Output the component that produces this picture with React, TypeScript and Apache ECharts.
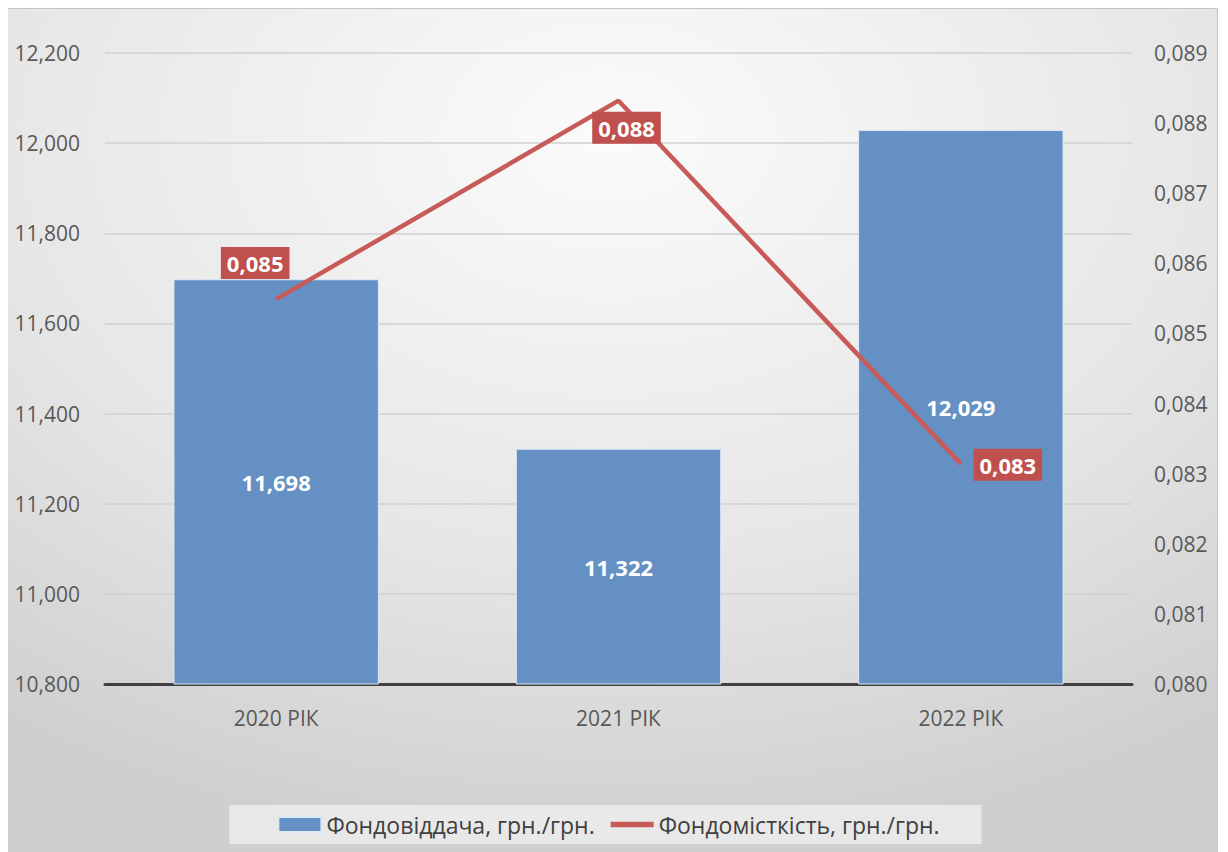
import React, { useEffect, useRef } from "react";
import * as echarts from "echarts";

const categories = ["2020 РІК", "2021 РІК", "2022 РІК"];
const fondovidacha = [11.698, 11.322, 12.029];
const fondomistkist = [0.08549, 0.08832, 0.08314];
const seriesNames = ["Фондовіддача, грн./грн.", "Фондомісткість, грн./грн."];
const lineLabelOffsets = [
  [-21, -36],
  [8, 27],
  [47, 1],
];

const fmt = (v: number) => v.toFixed(3).replace(".", ",");
const FONT = "'Open Sans', sans-serif";

export default function App() {
  const ref = useRef<HTMLDivElement>(null);
  useEffect(() => {
    if (!ref.current) return;
    const chart = echarts.init(ref.current, undefined, { renderer: "svg" });
    chart.setOption({
      animation: false,
      backgroundColor: {
        type: "radial",
        x: 0.5,
        y: 0.15,
        r: 0.85,
        colorStops: [
          { offset: 0, color: "#fbfbfb" },
          { offset: 0.6, color: "#e6e6e6" },
          { offset: 1, color: "#cfcfcf" },
        ],
      },
      textStyle: { fontFamily: FONT },
      grid: { left: 105, right: 85, top: 44, bottom: 168 },
      legend: {
        bottom: 8,
        left: "center",
        backgroundColor: "rgba(240,240,240,0.75)",
        padding: [8, 42, 8, 48],
        itemGap: 16,
        itemWidth: 43,
        itemHeight: 15,
        textStyle: { color: "#404040", fontSize: 23, fontFamily: FONT },
        data: [
          { name: seriesNames[0], icon: "rect" },
          { name: seriesNames[1], icon: "path://M0,0 H40 V5 H0 Z" },
        ],
      },
      xAxis: {
        type: "category",
        data: categories,
        axisLine: { show: true, lineStyle: { color: "#404040", width: 3 } },
        axisTick: { show: false },
        axisLabel: { color: "#595959", fontSize: 21, margin: 23, fontFamily: FONT },
      },
      yAxis: [
        {
          type: "value",
          min: 10.8,
          max: 12.2,
          interval: 0.2,
          axisLine: { show: false },
          axisTick: { show: false },
          splitLine: { lineStyle: { color: "#d0d0d0", width: 1.5 } },
          axisLabel: {
            color: "#595959",
            fontSize: 21,
            margin: 25,
            fontFamily: FONT,
            formatter: (v: number) => fmt(v),
          },
        },
        {
          type: "value",
          min: 0.08,
          max: 0.089,
          interval: 0.001,
          axisLine: { show: false },
          axisTick: { show: false },
          splitLine: { show: false },
          axisLabel: {
            color: "#595959",
            fontSize: 21,
            margin: 22,
            fontFamily: FONT,
            formatter: (v: number) => fmt(v),
          },
        },
      ],
      series: [
        {
          name: seriesNames[0],
          type: "bar",
          data: fondovidacha,
          barWidth: "60%",
          itemStyle: { color: "#6490c4", borderColor: "#dce7f4", borderWidth: 1 },
          label: {
            show: true,
            position: "inside",
            color: "#ffffff",
            fontWeight: "bold",
            fontSize: 22,
            fontFamily: FONT,
            formatter: (p: any) => fmt(p.value),
          },
        },
        {
          name: seriesNames[1],
          type: "line",
          yAxisIndex: 1,
          data: fondomistkist.map((v, i) => ({
            value: v,
            label: { offset: lineLabelOffsets[i] },
          })),
          symbol: "circle",
          symbolSize: 1,
          showSymbol: true,
          lineStyle: { color: "#c85a58", width: 4.5 },
          itemStyle: { color: "#c85a58" },
          label: {
            show: true,
            position: "inside",
            color: "#ffffff",
            fontWeight: "bold",
            fontSize: 22,
            fontFamily: FONT,
            backgroundColor: "#c0504d",
            padding: [6, 6, 4, 6],
            formatter: (p: any) => fmt(p.value),
          },
        },
      ],
    });
    return () => chart.dispose();
  }, []);
  return (
    <div
      ref={ref}
      style={{
        width: 1218,
        height: 844,
        marginLeft: -8,
        borderTop: "1px solid #c4c4c4",
        borderRight: "1px solid #c4c4c4",
        boxSizing: "border-box",
      }}
    />
  );
}
